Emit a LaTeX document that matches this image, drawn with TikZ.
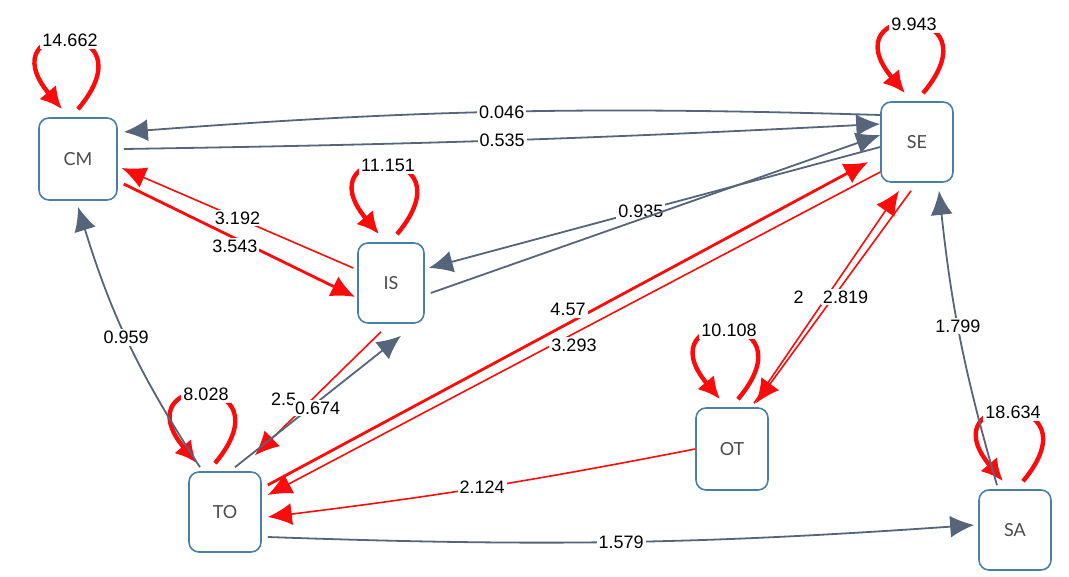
\documentclass[tikz,border=0pt]{standalone}
\usepackage{fontspec}
\setmainfont{Liberation Sans}
\newfontfamily\boxfont{Lato}
\usetikzlibrary{arrows.meta}
\definecolor{boxblue}{HTML}{4A7FA8}
\definecolor{slate}{HTML}{56657A}
\definecolor{loopred}{HTML}{FF0A0A}
\begin{document}
\begin{tikzpicture}[x=0.5pt,y=-0.5pt,
  box/.style={draw=boxblue,thick,rounded corners=5pt,fill=white,minimum width=36pt,minimum height=40pt,font=\boxfont\small,text=black!70},
  lbl/.style={fill=white,inner sep=1pt,font=\small},
  grey/.style={draw=slate,line width=0.9pt,-{Latex[length=12pt,width=11pt]}},
  redl/.style={draw=loopred,line width=0.8pt,-{Latex[length=12pt,width=11pt]}},
  redt/.style={draw=loopred,line width=1.4pt,-{Latex[length=12pt,width=11pt]}},
  selfloop/.style={draw=loopred,line width=2.2pt,-{Latex[length=11pt,width=11pt]},out=50,in=130,distance=60pt}]
\useasboundingbox (0,0) rectangle (1069,577);
\node[box,minimum width=39pt,minimum height=41pt] (cm) at (78,159) {CM};
\node[box,minimum width=33pt] (is) at (391,283) {IS};
\node[box] (se) at (917,142) {SE};
\node[box] (to) at (225,512) {TO};
\node[box,minimum height=41pt] (ot) at (732,449) {OT};
\node[box] (sa) at (1015,530) {SA};
% self loops
\draw[selfloop] ([shift={(0,-8)}]cm.north) to node[lbl,pos=0.5] {14.662} ([shift={(-16,-8)}]cm.north);
\draw[selfloop] ([shift={(6,-8)}]is.north) to node[lbl,pos=0.5] {11.151} ([shift={(-12,-8)}]is.north);
\draw[selfloop] ([shift={(6,-8)}]se.north) to node[lbl,pos=0.5] {9.943} ([shift={(-12,-8)}]se.north);
\draw[selfloop] ([shift={(-10,-8)}]to.north) to node[lbl,pos=0.5] {8.028} ([shift={(-28,-8)}]to.north);
\draw[selfloop] ([shift={(6,-8)}]ot.north) to node[lbl,pos=0.5] {10.108} ([shift={(-12,-8)}]ot.north);
\draw[selfloop] ([shift={(8,-8)}]sa.north) to node[lbl,pos=0.5] {18.634} ([shift={(-12,-8)}]sa.north);
% cm <-> se
\draw[grey] ([shift={(0,-27)}]se.west) to[bend right=3] node[lbl] {0.046} ([shift={(6,-27)}]cm.east);
\draw[grey] ([shift={(6,-10)}]cm.east) to[bend right=1] node[lbl] {0.535} ([shift={(0,-18)}]se.west);
% cm <-> is
\draw[redl] ([shift={(-4,-15)}]is.west) -- node[lbl] {3.192} ([shift={(4,9)}]cm.east);
\draw[redt] ([shift={(6,25)}]cm.east) -- node[lbl,pos=0.48,yshift=-4pt] {3.543} ([shift={(-2,14)}]is.west);
% se <-> is
\draw[grey] ([shift={(0,5)}]se.west) -- node[lbl,pos=0.53] {0.935} ([shift={(4,-15)}]is.east);
\draw[grey] ([shift={(6,10)}]is.east) -- ([shift={(0,-7)}]se.west);
% to -> cm
\draw[grey] ([shift={(-25,-4)}]to.north) to[bend left=8] node[lbl,pos=0.52] {0.959} ([shift={(0,6)}]cm.south);
% to <-> is
\draw[redl] ([shift={(-10,8)}]is.south) -- node[lbl,pos=0.55,xshift=-14pt] {2.5} ([shift={(30,-16)}]to.north);
\draw[grey] ([shift={(10,-4)}]to.north) -- node[lbl,pos=0.45,xshift=4pt] {0.674} ([shift={(10,12)}]is.south);
% to <-> se
\draw[redt] ([shift={(6,-27)}]to.east) -- node[lbl,pos=0.5,yshift=7pt] {4.57} ([shift={(-12,20)}]se.west);
\draw[redl] ([shift={(0,30)}]se.west) -- node[lbl,pos=0.5,yshift=-6pt] {3.293} ([shift={(6,-17)}]to.east);
% ot <-> se
\draw[redl] ([shift={(22,-4)}]ot.north) -- node[lbl,pos=0.5,xshift=-14pt] {2} ([shift={(-18,8)}]se.south);
\draw[redl] ([shift={(-6,8)}]se.south) -- node[lbl,pos=0.5,xshift=6pt] {2.819} ([shift={(24,-4)}]ot.north);
% ot -> to
\draw[redl] (ot.west) to[bend left=2] node[lbl,pos=0.5] {2.124} ([shift={(6,5)}]to.east);
% to -> sa
\draw[grey] ([shift={(6,25)}]to.east) to[bend right=3] node[lbl] {1.579} ([shift={(-4,-5)}]sa.west);
% sa -> se
\draw[grey] ([shift={(-18,-4)}]sa.north) to[bend left=5] node[lbl,pos=0.55] {1.799} ([shift={(22,8)}]se.south);
\end{tikzpicture}
\end{document}
